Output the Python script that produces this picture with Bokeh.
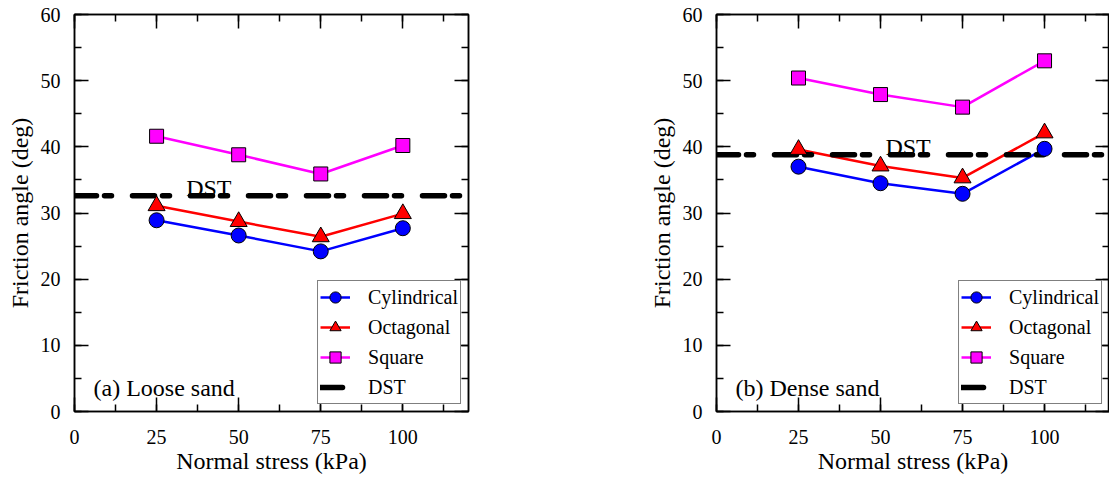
from bokeh.plotting import figure
from bokeh.layouts import row
from bokeh.models import (Legend, LegendItem, LinearAxis, SingleIntervalTicker,
                          Label, Range1d, CustomJSTickFormatter)
from bokeh.embed import file_html
from bokeh.resources import INLINE

# ---------------- data ----------------
stress = [25, 50, 75, 100]

loose_cyl = [28.9, 26.6, 24.2, 27.7]
loose_oct = [31.1, 28.7, 26.4, 29.9]
loose_sq = [41.6, 38.8, 35.9, 40.2]
loose_dst = 32.6

dense_cyl = [37.0, 34.5, 32.9, 39.7]
dense_oct = [39.6, 37.1, 35.3, 42.1]
dense_sq = [50.4, 47.9, 46.0, 53.0]
dense_dst = 38.8

series_names = ["Cylindrical", "Octagonal", "Square", "DST"]
panel_titles = ["(a) Loose sand", "(b) Dense sand"]

FONT = "Liberation Serif"
TICK_FS = "20px"
LABEL_FS = "24px"


def x_ticker():
    return SingleIntervalTicker(interval=25, num_minor_ticks=2)


def y_ticker():
    return SingleIntervalTicker(interval=10, num_minor_ticks=2)


def style_axis(ax, show_labels=True):
    ax.major_tick_in = 14
    ax.major_tick_out = 0
    ax.minor_tick_in = 7
    ax.minor_tick_out = 0
    ax.axis_line_color = "black"
    ax.axis_line_width = 1.5
    ax.major_tick_line_color = "black"
    ax.major_tick_line_width = 1.5
    ax.minor_tick_line_color = "black"
    ax.minor_tick_line_width = 1.5
    ax.major_label_text_font = FONT
    ax.major_label_text_color = "black"
    ax.axis_label_text_font = FONT
    ax.axis_label_text_font_style = "normal"
    ax.axis_label_text_font_size = LABEL_FS
    ax.axis_label_text_color = "black"
    if show_labels:
        ax.major_label_text_font_size = TICK_FS
    else:
        ax.formatter = CustomJSTickFormatter(code="return ''")
        ax.major_label_text_font_size = "1px"
        ax.major_label_standoff = 0


def make_panel(cyl, oct_, sq, dst, title, width, x_end, border_left, border_right,
               dst_label_x):
    p = figure(width=width, height=478, output_backend="svg", toolbar_location=None,
               x_range=Range1d(0, x_end), y_range=Range1d(0, 60),
               min_border_left=border_left, min_border_right=border_right,
               min_border_top=14, min_border_bottom=67)
    p.grid.visible = False
    p.outline_line_color = "black"
    p.outline_line_width = 1.5
    p.background_fill_color = "white"
    p.border_fill_color = "white"

    p.xaxis.ticker = x_ticker()
    p.yaxis.ticker = y_ticker()
    p.xaxis.axis_label = "Normal stress (kPa)"
    p.yaxis.axis_label = "Friction angle (deg)"
    style_axis(p.xaxis[0])
    style_axis(p.yaxis[0])
    p.xaxis.major_label_standoff = 18
    p.yaxis.major_label_standoff = 14
    p.xaxis.axis_label_standoff = 1
    p.yaxis.axis_label_standoff = 5

    top = LinearAxis(ticker=x_ticker())
    style_axis(top, show_labels=False)
    p.add_layout(top, "above")
    right = LinearAxis(ticker=y_ticker())
    style_axis(right, show_labels=False)
    p.add_layout(right, "right")

    # series lines
    l_cyl = p.line(stress, cyl, line_color="#0000ff", line_width=2.5)
    l_oct = p.line(stress, oct_, line_color="#ff0000", line_width=2.5)
    l_sq = p.line(stress, sq, line_color="#ff00ff", line_width=2.5)
    # DST reference line across the full axis range
    l_dst = p.line([0, 120], [dst, dst], line_color="black", line_width=5.5,
                   line_dash="22 8 7 21", line_cap="round")
    # markers
    m_cyl = p.scatter(stress, cyl, marker="circle", size=15, fill_color="#0000ff",
                      line_color="black", line_width=1)
    m_oct = p.scatter(stress, oct_, marker="triangle", size=17, fill_color="#ff0000",
                      line_color="black", line_width=1)
    m_sq = p.scatter(stress, sq, marker="square", size=14, fill_color="#ff00ff",
                     line_color="black", line_width=1)

    p.add_layout(Label(x=dst_label_x, y=dst + 1.2, text="DST", text_font=FONT,
                       text_font_size="24px", text_color="black",
                       text_baseline="alphabetic"))
    p.add_layout(Label(x=19, y=24, x_units="screen", y_units="screen", text=title,
                       text_font=FONT, text_font_size="24px", text_color="black",
                       text_baseline="alphabetic"))

    legend = Legend(items=[
        LegendItem(label=series_names[0], renderers=[l_cyl, m_cyl]),
        LegendItem(label=series_names[1], renderers=[l_oct, m_oct]),
        LegendItem(label=series_names[2], renderers=[l_sq, m_sq]),
        LegendItem(label=series_names[3], renderers=[l_dst]),
    ], location="bottom_right")
    legend.margin = 7
    legend.padding = 2
    legend.spacing = 2
    legend.glyph_width = 30
    legend.glyph_height = 28
    legend.label_standoff = 18
    legend.label_text_font = FONT
    legend.label_text_font_size = TICK_FS
    legend.label_text_color = "black"
    legend.border_line_color = "black"
    legend.border_line_width = 1
    legend.background_fill_alpha = 1
    p.add_layout(legend, "center")
    return p


p1 = make_panel(loose_cyl, loose_oct, loose_sq, loose_dst, panel_titles[0],
                width=600, x_end=120, border_left=74, border_right=132,
                dst_label_x=34)
p2 = make_panel(dense_cyl, dense_oct, dense_sq, dense_dst, panel_titles[1],
                width=509, x_end=119.8, border_left=116, border_right=0,
                dst_label_x=51.5)

layout = row(p1, p2)
open("out.html", "w").write(file_html(layout, INLINE))
